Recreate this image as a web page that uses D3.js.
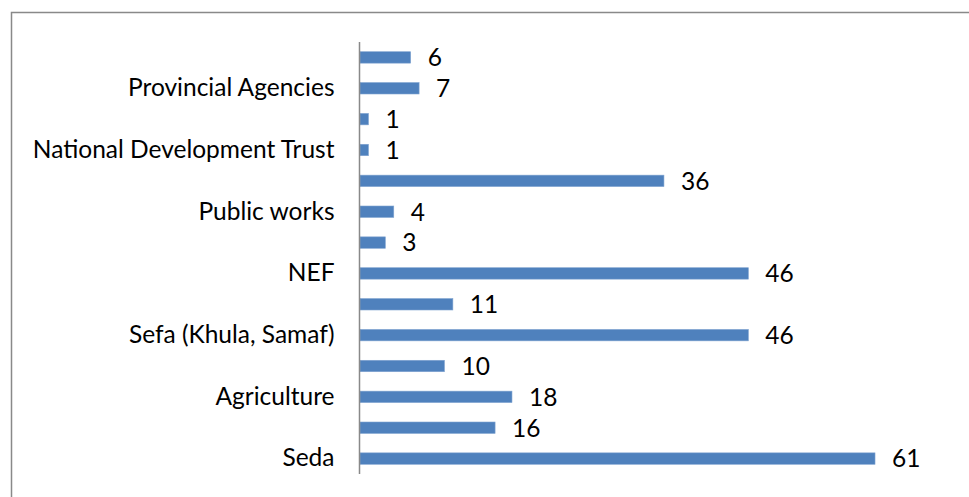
<!DOCTYPE html>
<html>
<head>
<meta charset="utf-8">
<script src="https://cdn.jsdelivr.net/npm/d3@7"></script>
<style>
  body { margin: 0; background: #fff; }
  svg { display: block; }
  text { font-family: Lato, "Open Sans", sans-serif; fill: #000; }
</style>
</head>
<body>
<svg id="chart" width="969" height="497"></svg>
<script>
// categories from top to bottom; Excel only printed every other label
const categories = [
    'row14', 'Provincial Agencies', 'row12', 'National Development Trust',
    'row10', 'Public works', 'row8', 'NEF', 'row6', 'Sefa (Khula, Samaf)',
    'row4', 'Agriculture', 'row2', 'Seda'
];
const shownLabels = [
    '', 'Provincial Agencies', '', 'National Development Trust',
    '', 'Public works', '', 'NEF', '', 'Sefa (Khula, Samaf)',
    '', 'Agriculture', '', 'Seda'
];
const values = [6, 7, 1, 1, 36, 4, 3, 46, 11, 46, 10, 18, 16, 61];
const xMax = 70;

const svg = d3.select('#chart');
const W = 969, H = 497;
const fontSize = '24.5px';

// chart area frame (cut off at right and bottom)
svg.append('rect')
    .attr('x', 11.5).attr('y', 12.5)
    .attr('width', W + 10).attr('height', H + 10)
    .attr('fill', 'none')
    .attr('stroke', '#898989')
    .attr('stroke-width', 1.5);

const plot = { left: 360, right: 951, top: 42, bottom: 474 };

const x = d3.scaleLinear().domain([0, xMax]).range([plot.left, plot.right]);
const y = d3.scaleBand()
    .domain(categories)
    .range([plot.top, plot.bottom])
    .paddingInner(0.63)
    .paddingOuter(0.315);

// bars
svg.selectAll('.bar')
    .data(values)
    .enter()
    .append('rect')
    .attr('class', 'bar')
    .attr('x', x(0))
    .attr('y', (d, i) => y(categories[i]))
    .attr('width', d => x(d) - x(0))
    .attr('height', y.bandwidth())
    .attr('fill', '#4F81BD')
    .attr('stroke', '#7fa3d0')
    .attr('stroke-width', 0.6);

// value labels
svg.selectAll('.val')
    .data(values)
    .enter()
    .append('text')
    .attr('class', 'val')
    .attr('x', d => x(d) + 17)
    .attr('y', (d, i) => y(categories[i]) + y.bandwidth() / 2)
    .attr('dy', '0.36em')
    .style('font-size', fontSize)
    .text(d => d);

// category axis
const yAxis = d3.axisLeft(y)
    .tickSize(0)
    .tickPadding(25)
    .tickFormat((d, i) => shownLabels[i]);

const g = svg.append('g')
    .attr('transform', `translate(${plot.left - 0.5},0)`)
    .call(yAxis);
g.select('.domain')
    .attr('stroke', '#898989')
    .attr('stroke-width', 1.5)
    .attr('d', `M0,${plot.top}V${plot.bottom}`);
g.selectAll('.tick text')
    .style('font-size', fontSize)
    .style('font-family', 'Lato, "Open Sans", sans-serif')
    .attr('fill', '#000');
</script>
</body>
</html>
